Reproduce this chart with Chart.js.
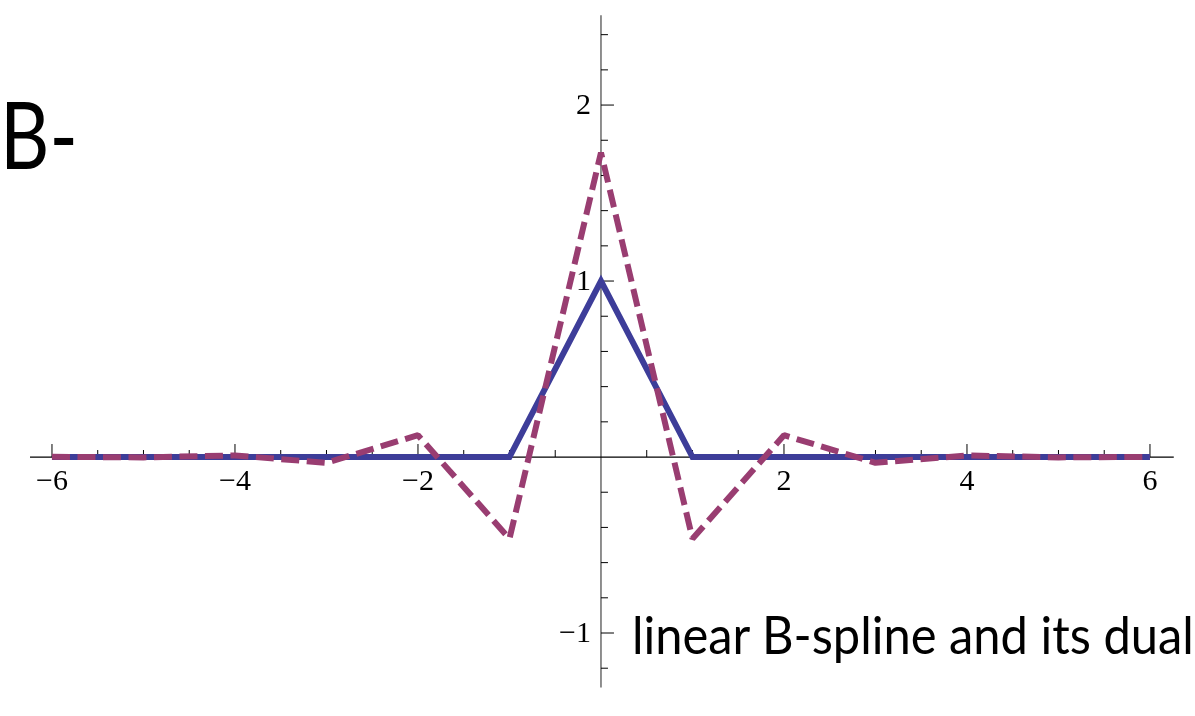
<!DOCTYPE html>
<html>
<head>
<meta charset="utf-8">
<script src="https://cdn.jsdelivr.net/npm/chart.js@4.4.1/dist/chart.umd.min.js"></script>
<style>
  html, body { margin: 0; padding: 0; background: #fff; }
  #wrap { position: relative; width: 1195px; height: 716px; overflow: hidden; }
  #plot { position: absolute; left: 0; top: 0; }
  .note { position: absolute; font-family: Lato, "Open Sans", sans-serif; color: #000; white-space: nowrap; transform-origin: 0 0; line-height: 1; }
  #title { left: 0px; top: 86px; font-size: 94px; }
  #caption { left: 632px; top: 608px; font-size: 52px; }
</style>
</head>
<body>
<div id="wrap">
  <canvas id="plot" width="1195" height="716"></canvas>
  <div class="note" id="title">B-</div>
  <div class="note" id="caption">linear B-spline and its dual</div>
</div>
<script>
// sample points (integer knots)
const xValues = [-6, -5, -4, -3, -2, -1, 0, 1, 2, 3, 4, 5, 6];
// linear B-spline (hat function)
const bsplineValues = [0, 0, 0, 0, 0, 0, 1, 0, 0, 0, 0, 0, 0];
// its dual
const dualValues = [0.001, -0.002, 0.009, -0.033, 0.124, -0.464, 1.73, -0.464, 0.124, -0.033, 0.009, -0.002, 0.001];

const xMajorTicks = [-6, -4, -2, 2, 4, 6];
const xMinorTicks = [-5.5, -5, -4.5, -3.5, -3, -2.5, -1.5, -1, -0.5, 0.5, 1, 1.5, 2.5, 3, 3.5, 4.5, 5, 5.5];
const yMajorTicks = [-1, 1, 2];
const yMinorTicks = [-1.2, -0.8, -0.6, -0.4, -0.2, 0.2, 0.4, 0.6, 0.8, 1.2, 1.4, 1.6, 1.8, 2.2, 2.4];

const toPoints = (ys) => xValues.map((x, i) => ({ x: x, y: ys[i] }));
const fmt = (v) => (v < 0 ? "\u2212" + Math.abs(v) : String(v));

const axesPlugin = {
  id: "originAxes",
  beforeDatasetsDraw(chart) {
    const ctx = chart.ctx;
    const xs = chart.scales.x;
    const ys = chart.scales.y;
    const x0 = xs.getPixelForValue(0);
    const y0 = ys.getPixelForValue(0);
    ctx.save();

    // y axis
    ctx.strokeStyle = "#6a6a6a";
    ctx.lineWidth = 1.5;
    ctx.beginPath();
    ctx.moveTo(x0, ys.getPixelForValue(2.51));
    ctx.lineTo(x0, ys.getPixelForValue(-1.31));
    ctx.stroke();

    // x axis
    ctx.strokeStyle = "#000";
    ctx.lineWidth = 1.2;
    ctx.beginPath();
    ctx.moveTo(xs.getPixelForValue(-6.24), y0);
    ctx.lineTo(xs.getPixelForValue(6.26), y0);
    ctx.stroke();

    // ticks
    ctx.lineWidth = 1;
    ctx.strokeStyle = "#000";
    ctx.beginPath();
    xMajorTicks.forEach((v) => {
      const p = xs.getPixelForValue(v);
      ctx.moveTo(p, y0); ctx.lineTo(p, y0 - 13);
    });
    xMinorTicks.forEach((v) => {
      const p = xs.getPixelForValue(v);
      ctx.moveTo(p, y0); ctx.lineTo(p, y0 - 7);
    });
    yMajorTicks.forEach((v) => {
      const p = ys.getPixelForValue(v);
      ctx.moveTo(x0, p); ctx.lineTo(x0 + 13, p);
    });
    yMinorTicks.forEach((v) => {
      const p = ys.getPixelForValue(v);
      ctx.moveTo(x0, p); ctx.lineTo(x0 + 7, p);
    });
    ctx.stroke();

    // tick labels
    ctx.fillStyle = "#000";
    ctx.font = '30px "Liberation Serif", "DejaVu Serif", serif';
    ctx.textAlign = "center";
    ctx.textBaseline = "alphabetic";
    xMajorTicks.forEach((v) => {
      ctx.fillText(fmt(v), xs.getPixelForValue(v), y0 + 33);
    });
    ctx.textAlign = "right";
    ctx.textBaseline = "middle";
    yMajorTicks.forEach((v) => {
      ctx.fillText(fmt(v), x0 - 10, ys.getPixelForValue(v) + 1);
    });
    ctx.restore();
  },
};

new Chart(document.getElementById("plot"), {
  type: "line",
  data: {
    datasets: [
      {
        label: "dual",
        data: toPoints(dualValues),
        borderColor: "rgb(153, 61, 113)",
        borderWidth: 6,
        borderDash: [18, 7.5],
        borderCapStyle: "butt",
        borderJoinStyle: "bevel",
        pointRadius: 0,
        tension: 0,
        fill: false,
        order: 0,
      },
      {
        label: "B-spline",
        data: toPoints(bsplineValues),
        borderColor: "rgb(61, 61, 153)",
        borderWidth: 6,
        borderJoinStyle: "miter",
        pointRadius: 0,
        tension: 0,
        fill: false,
        order: 1,
      },
    ],
  },
  options: {
    responsive: false,
    animation: false,
    events: [],
    layout: { padding: 0 },
    plugins: {
      legend: { display: false },
      tooltip: { enabled: false },
    },
    scales: {
      x: { type: "linear", display: false, min: -6.568, max: 6.492 },
      y: { type: "linear", display: false, min: -1.4716, max: 2.597 },
    },
  },
  plugins: [axesPlugin],
});

// squeeze the captions to the width they take in the picture
function fitWidth(id, target) {
  const el = document.getElementById(id);
  el.style.transform = "scaleX(" + target / el.offsetWidth + ")";
}
fitWidth("title", 78);
fitWidth("caption", 562);
</script>
</body>
</html>
